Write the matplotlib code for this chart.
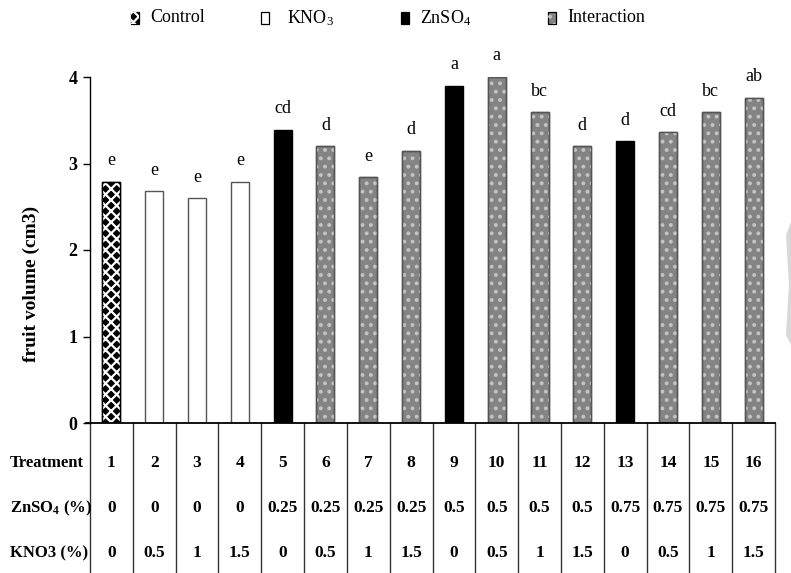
import matplotlib
matplotlib.use("Agg")
import matplotlib.pyplot as plt
from matplotlib.patches import Rectangle, Polygon

plt.rcParams['font.family'] = ['Liberation Serif', 'DejaVu Serif']
plt.rcParams['mathtext.default'] = 'regular'
plt.rcParams['hatch.linewidth'] = 1.6

# ---- data ----
treatments = [str(i) for i in range(1, 17)]
znso4 = ['0', '0', '0', '0', '0.25', '0.25', '0.25', '0.25', '0.5', '0.5', '0.5', '0.5',
         '0.75', '0.75', '0.75', '0.75']
kno3 = ['0', '0.5', '1', '1.5', '0', '0.5', '1', '1.5', '0', '0.5', '1', '1.5',
        '0', '0.5', '1', '1.5']
volume = [2.79, 2.68, 2.60, 2.79, 3.39, 3.20, 2.84, 3.15, 3.90, 4.00, 3.59, 3.20,
          3.26, 3.36, 3.59, 3.76]
letters = ['e', 'e', 'e', 'e', 'cd', 'd', 'e', 'd', 'a', 'a', 'bc', 'd', 'd', 'cd', 'bc', 'ab']
groups = ['Control', 'KNO3', 'KNO3', 'KNO3', 'ZnSO4', 'Interaction', 'Interaction', 'Interaction',
          'ZnSO4', 'Interaction', 'Interaction', 'Interaction', 'ZnSO4', 'Interaction',
          'Interaction', 'Interaction']
yticks = [0, 1, 2, 3, 4]

styles = {
    'Control':     dict(face='black',   edge='black',   hatch='xxx', hcol='white'),
    'KNO3':        dict(face='white',   edge='#555555', hatch=None,  hcol=None),
    'ZnSO4':       dict(face='black',   edge='black',   hatch=None,  hcol=None),
    'Interaction': dict(face='#848484', edge='#555555', hatch='..',  hcol='#c4c4c4'),
}

W, H = 791, 573
fig = plt.figure(figsize=(W / 100, H / 100), dpi=100)
x0, x1 = 90, 775
y0, y4 = 423, 77
ax = fig.add_axes([x0 / W, (H - y0) / H, (x1 - x0) / W, (y0 - y4) / H])
ax.set_xlim(-0.5, 15.5)
ax.set_ylim(0, 4)

xs = list(range(len(volume)))
bw = 0.42
for x, v, g in zip(xs, volume, groups):
    st = styles[g]
    ax.bar(x, v, width=bw, color=st['face'], edgecolor=st['edge'], linewidth=1.0, zorder=2)
    if st['hatch']:
        ax.bar(x, v, width=bw, fill=False, hatch=st['hatch'], edgecolor=st['hcol'],
               linewidth=0, zorder=3)
        ax.bar(x, v, width=bw, fill=False, edgecolor=st['edge'], linewidth=1.0, zorder=4)

for x, v, l in zip(xs, volume, letters):
    ax.annotate(l, (x, v), xytext=(0, 9), textcoords='offset points', ha='center',
                va='bottom', fontsize=13, annotation_clip=False)

ax.spines['top'].set_visible(False)
ax.spines['right'].set_visible(False)
ax.spines['bottom'].set_visible(False)
ax.spines['left'].set_linewidth(1.0)
ax.set_xticks([])
ax.set_yticks(yticks)
ax.set_yticklabels([str(t) for t in yticks], fontsize=13, fontweight='bold')
ax.tick_params(axis='y', direction='out', length=5, width=1.0, pad=4)
ax.set_ylabel('fruit volume (cm3)', fontsize=14, fontweight='bold')
ax.yaxis.set_label_coords((40 - x0) / (x1 - x0), (y0 - 284) / (y0 - y4))

# baseline / table
xt = ax.get_xaxis_transform()
ax.plot([-0.6, 15.5], [0, 0], color='black', lw=1.3, transform=xt, clip_on=False, zorder=5)
ybot = -(H - y0 + 5) / (y0 - y4)
for b in range(17):
    ax.plot([b - 0.5, b - 0.5], [0, ybot], color='#333333', lw=1.0, transform=xt,
            clip_on=False)

rows_y = [-(463 - y0) / (y0 - y4), -(508 - y0) / (y0 - y4), -(553 - y0) / (y0 - y4)]
row_labels = ['Treatment', 'ZnSO$_4$ (%)', 'KNO3 (%)']
row_vals = [treatments, znso4, kno3]
for ry, lab, vals in zip(rows_y, row_labels, row_vals):
    fig.text(10 / W, (H - (y0 + (-ry) * (y0 - y4))) / H, lab, ha='left', va='center',
             fontsize=12, fontweight='bold')
    for x, s in zip(xs, vals):
        ax.text(x, ry, s, ha='center', va='center', fontsize=12.5, fontweight='bold',
                transform=xt, clip_on=False)

# legend
leg = [('Control', 135, 150), ('KNO$_3$', 265, 287), ('ZnSO$_4$', 405, 420),
       ('Interaction', 552, 567)]
ly = 18
for name, mx, tx in leg:
    key = {'KNO$_3$': 'KNO3', 'ZnSO$_4$': 'ZnSO4'}.get(name, name)
    st = styles[key]
    rw, rh = 8 / W, 11 / H
    rx, ry_ = (mx - 4) / W, (H - ly - 5.5) / H
    fig.patches.append(Rectangle((rx, ry_), rw, rh, transform=fig.transFigure,
                                 facecolor=st['face'], edgecolor='black', lw=0.9))
    if st['hatch']:
        fig.patches.append(Rectangle((rx, ry_), rw, rh, transform=fig.transFigure,
                                     fill=False, hatch=st['hatch'], edgecolor=st['hcol'], lw=0))
    fig.text(tx / W, (H - ly) / H, name, ha='left', va='center', fontsize=13)

# faint background shape at right edge
fig.patches.append(Polygon([(786 / W, (H - 235) / H), (791 / W, (H - 222) / H),
                            (791 / W, (H - 345) / H), (786 / W, (H - 335) / H),
                            (789 / W, (H - 285) / H)],
                           closed=True, transform=fig.transFigure, facecolor='#d8d8d8',
                           edgecolor='none'))

fig.savefig('out.png', dpi=100)
